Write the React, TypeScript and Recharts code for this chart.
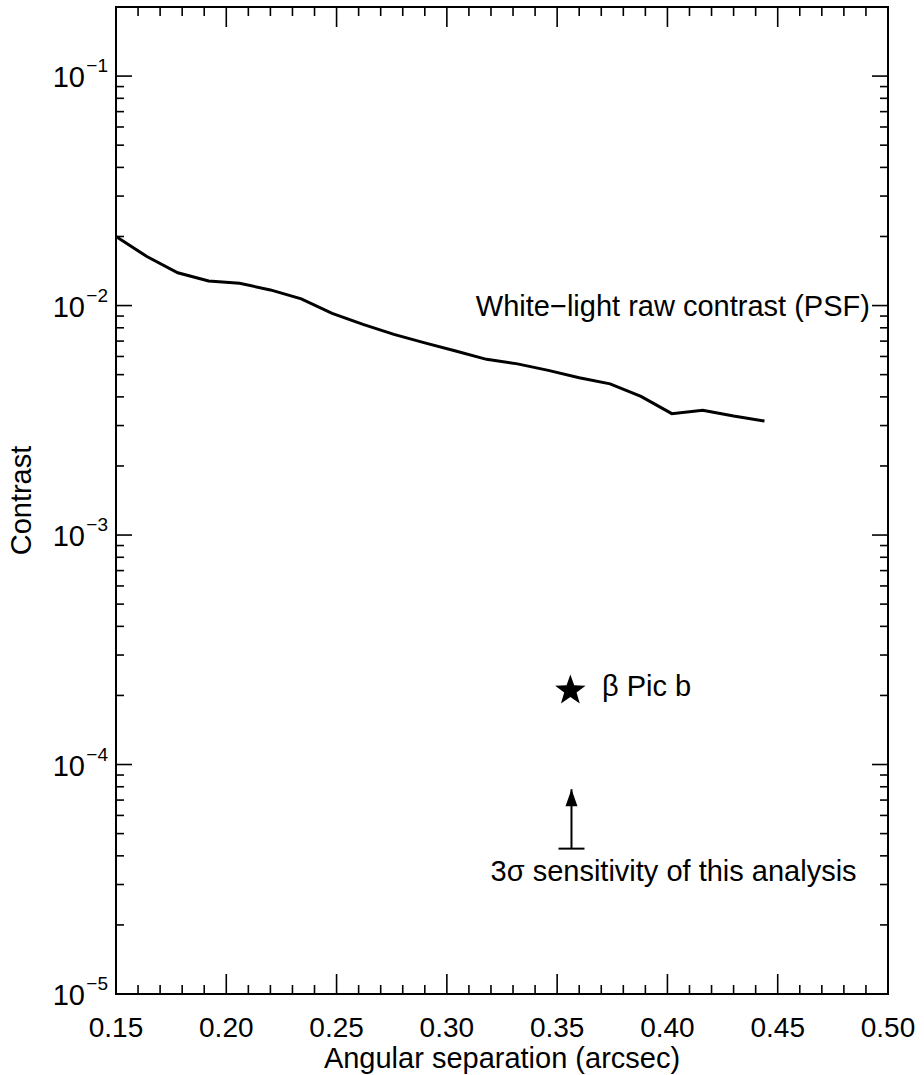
import React from 'react';
import { ComposedChart, Line, Scatter, XAxis, YAxis, ReferenceArea, ReferenceDot } from 'recharts';

// raw PSF contrast curve (white light)
const separation = [
  0.150, 0.164, 0.178, 0.192, 0.206, 0.220, 0.234, 0.248, 0.262, 0.276, 0.290,
  0.304, 0.318, 0.332, 0.346, 0.360, 0.374, 0.388, 0.402, 0.416, 0.430, 0.444,
];
const rawContrast = [
  0.0200, 0.01635, 0.0139, 0.0128, 0.0125, 0.0117, 0.0107, 0.00925, 0.00828, 0.00749, 0.00688,
  0.00634, 0.00583, 0.00557, 0.00522, 0.00485, 0.00456, 0.00402, 0.00338, 0.00350, 0.00330, 0.00314,
];

// beta Pic b and the 3 sigma limit arrow
const planet = [{ x: 0.356, y: 2.1e-4 }];
const sensitivity = [
  { x: 0.3565, y: 4.3e-5 },
  { x: 0.3565, y: 7.8e-5 },
];

const xTicks = [
  0.15, 0.16, 0.17, 0.18, 0.19, 0.20, 0.21, 0.22, 0.23, 0.24, 0.25, 0.26, 0.27, 0.28, 0.29, 0.30,
  0.31, 0.32, 0.33, 0.34, 0.35, 0.36, 0.37, 0.38, 0.39, 0.40, 0.41, 0.42, 0.43, 0.44, 0.45, 0.46,
  0.47, 0.48, 0.49, 0.50,
];
const xMajor = [0.15, 0.20, 0.25, 0.30, 0.35, 0.40, 0.45, 0.50];
const yDecades = [1e-5, 1e-4, 1e-3, 1e-2, 1e-1];
const yMinorSteps = [1, 2, 3, 4, 5, 6, 7, 8, 9];

const annotations = [
  { x: 0.4918, y: 1.0e-2, text: 'White−light raw contrast (PSF)', anchor: 'end' },
  { x: 0.3703, y: 2.2e-4, text: 'β Pic b', anchor: 'start' },
  { x: 0.4028, y: 3.45e-5, text: '3σ sensitivity of this analysis', anchor: 'middle' },
];

const FONT = '"Liberation Sans", Arial, Helvetica, sans-serif';
const FS = 29;
const LEFT = 116;
const RIGHT = 888;
const TOP = 7;
const BOTTOM = 994;

const curve = separation.map((x, i) => ({ x, y: rawContrast[i] }));
const yTicks = yDecades.flatMap((d) => yMinorSteps.map((m) => +(d * m).toPrecision(3))).filter((v) => v <= 0.2);

const isXMajor = (v: number) => xMajor.some((m) => Math.abs(m - v) < 1e-6);
const isDecade = (v: number) => yDecades.some((d) => Math.abs(d - v) / d < 1e-6);

const XTick = (props: any) => {
  const { x, payload } = props;
  const major = isXMajor(payload.value);
  const len = major ? 20 : 9;
  return (
    <g>
      <line x1={x} x2={x} y1={BOTTOM} y2={BOTTOM - len} stroke="#000" strokeWidth={1.6} />
      <line x1={x} x2={x} y1={TOP} y2={TOP + len} stroke="#000" strokeWidth={1.6} />
      {major && (
        <text x={x} y={BOTTOM + 43} textAnchor="middle" fontSize={28} fontFamily={FONT} fill="#000">
          {payload.value.toFixed(2)}
        </text>
      )}
    </g>
  );
};

const YTick = (props: any) => {
  const { y, payload } = props;
  const major = isDecade(payload.value);
  const len = major ? 16 : 8;
  const exp = Math.round(Math.log10(payload.value));
  return (
    <g>
      <line x1={LEFT} x2={LEFT + len} y1={y} y2={y} stroke="#000" strokeWidth={1.6} />
      <line x1={RIGHT} x2={RIGHT - len} y1={y} y2={y} stroke="#000" strokeWidth={1.6} />
      {major && (
        <g fontFamily={FONT} fill="#000">
          <text x={LEFT - 8} y={y - 4} textAnchor="end" fontSize={19}>
            {'−' + Math.abs(exp)}
          </text>
          <text x={LEFT - 31} y={y + 11} textAnchor="end" fontSize={FS}>
            10
          </text>
        </g>
      )}
    </g>
  );
};

const Star = (props: any) => {
  const { cx, cy } = props;
  const R = 16;
  const r = 6.5;
  const pts: string[] = [];
  for (let i = 0; i < 10; i++) {
    const rad = i % 2 === 0 ? R : r;
    const a = -Math.PI / 2 + (i * Math.PI) / 5;
    pts.push(`${cx + rad * Math.cos(a)},${cy + rad * Math.sin(a)}`);
  }
  return <polygon points={pts.join(' ')} fill="#000" />;
};

const ArrowEnd = (props: any) => {
  const { cx, cy, index } = props;
  if (index === 0) {
    return <line key="base" x1={cx - 13} x2={cx + 13} y1={cy} y2={cy} stroke="#000" strokeWidth={2} />;
  }
  return <polygon key="head" points={`${cx},${cy} ${cx - 6},${cy + 17} ${cx + 6},${cy + 17}`} fill="#000" />;
};

const Note = (text: string, anchor: string) => (props: any) => (
  <text x={props.cx} y={props.cy} dy={10} textAnchor={anchor} fontSize={FS} fontFamily={FONT} fill="#000">
    {text}
  </text>
);

export default function App() {
  return (
    <div style={{ position: 'absolute', left: 0, top: 0, background: '#fff' }}>
      <ComposedChart width={924} height={1075} margin={{ top: TOP, right: 924 - RIGHT, left: 0, bottom: 0 }}>
        <XAxis
          dataKey="x"
          type="number"
          domain={[0.15, 0.5]}
          ticks={xTicks}
          interval={0}
          allowDataOverflow
          height={1075 - BOTTOM}
          tickSize={0}
          tickMargin={0}
          tickLine={false}
          axisLine={false}
          tick={<XTick />}
          label={() => (
            <text x={(LEFT + RIGHT) / 2} y={1068} textAnchor="middle" fontSize={FS} fontFamily={FONT} fill="#000">
              Angular separation (arcsec)
            </text>
          )}
        />
        <YAxis
          dataKey="y"
          type="number"
          scale="log"
          domain={[1e-5, 0.2]}
          ticks={yTicks}
          interval={0}
          allowDataOverflow
          width={LEFT}
          tickSize={0}
          tickMargin={0}
          tickLine={false}
          axisLine={false}
          tick={<YTick />}
          label={() => (
            <text
              x={31}
              y={(TOP + BOTTOM) / 2}
              transform={`rotate(-90 31 ${(TOP + BOTTOM) / 2})`}
              textAnchor="middle"
              fontSize={FS}
              fontFamily={FONT}
              fill="#000"
            >
              Contrast
            </text>
          )}
        />
        <ReferenceArea x1={0.15} x2={0.5} y1={1e-5} y2={0.2} fill="none" stroke="#000" strokeWidth={2} ifOverflow="visible" />
        <Line
          data={curve}
          dataKey="y"
          stroke="#000"
          strokeWidth={3}
          dot={false}
          type="linear"
          isAnimationActive={false}
        />
        <Line
          data={sensitivity}
          dataKey="y"
          stroke="#000"
          strokeWidth={2}
          dot={<ArrowEnd />}
          type="linear"
          isAnimationActive={false}
        />
        <Scatter data={planet} dataKey="y" shape={<Star />} isAnimationActive={false} />
        {annotations.map((a) => (
          <ReferenceDot key={a.text} x={a.x} y={a.y} r={0} shape={Note(a.text, a.anchor)} ifOverflow="visible" />
        ))}
      </ComposedChart>
    </div>
  );
}
